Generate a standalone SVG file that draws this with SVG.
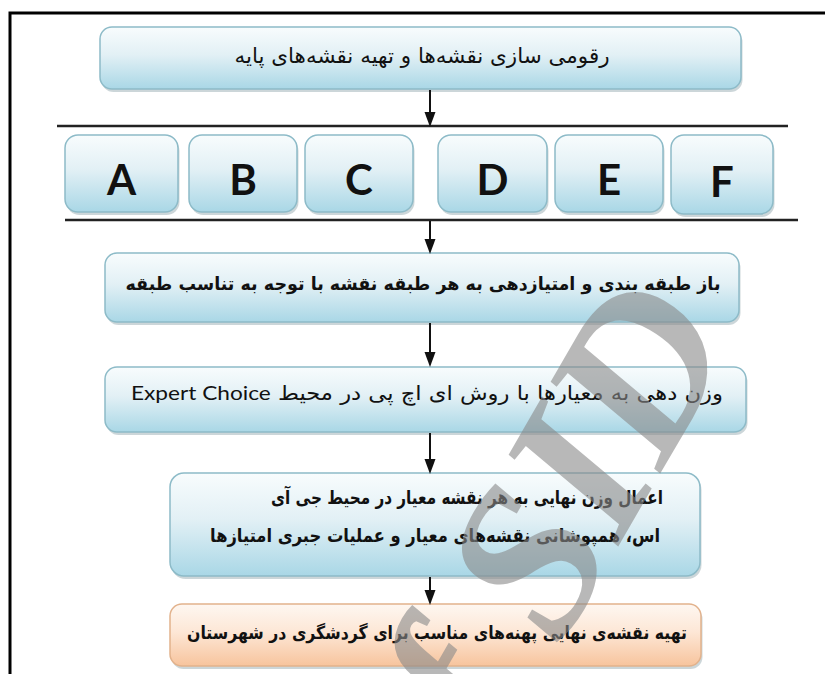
<svg xmlns="http://www.w3.org/2000/svg" width="825" height="674" viewBox="0 0 825 674">
<defs>
<linearGradient id="gBlue" x1="0" y1="0" x2="0" y2="1">
<stop offset="0" stop-color="#f8fcfd"/>
<stop offset="0.45" stop-color="#e2f0f5"/>
<stop offset="1" stop-color="#a9d7e6"/>
</linearGradient>
<linearGradient id="gOrange" x1="0" y1="0" x2="0" y2="1">
<stop offset="0" stop-color="#fef7f1"/>
<stop offset="0.45" stop-color="#fde7d6"/>
<stop offset="1" stop-color="#f7c49d"/>
</linearGradient>
<marker id="ah" markerUnits="userSpaceOnUse" viewBox="0 0 16 12" markerWidth="16" markerHeight="12" refX="0" refY="6" orient="auto">
<path d="M0,0.5 L15,6 L0,11.5 Z" fill="#111"/>
</marker>
</defs>
<style>
.box{fill:url(#gBlue);stroke:#8dbbc8;stroke-width:1.5}
.obox{fill:url(#gOrange);stroke:#e2b28c;stroke-width:1.5}
.sh{fill:#8fa4ab;opacity:.45}
.fa{font-family:"DejaVu Sans",sans-serif;fill:#111;text-anchor:middle}
.en{font-family:Lato,"Open Sans",sans-serif;font-weight:400}
.lt{font-family:Lato,"Open Sans",sans-serif;font-weight:700;font-size:42px;fill:#111;text-anchor:middle}
.conn line{stroke:#111;stroke-width:2;marker-end:url(#ah)}
.rule{stroke:#222;stroke-width:2.5}
.wm{font-family:"Liberation Serif",serif;font-style:italic;font-weight:700;font-size:215px;fill:#8a8a8a;opacity:.6}
</style>
<rect width="825" height="674" fill="#fff"/>
<path d="M10,674 V13 H825" fill="none" stroke="#000" stroke-width="3"/>
<line class="rule" x1="57" y1="126" x2="788" y2="126"/>
<line class="rule" x1="65" y1="220" x2="798" y2="220"/>

<g id="n1">
<rect class="sh" x="101.5" y="30" width="641" height="62" rx="12"/>
<rect class="box" x="100" y="27" width="641" height="62" rx="12"/>
<text class="fa" x="422" y="63" font-size="21" direction="rtl" textLength="375" lengthAdjust="spacingAndGlyphs">رقومی سازی نقشه&#8204;ها و تهیه نقشه&#8204;های پایه</text>
</g>
<g id="nA">
<rect class="sh" x="66.5" y="138" width="113" height="77" rx="13"/>
<rect class="box" x="65" y="135" width="113" height="77" rx="13"/>
<text class="lt" x="121.5" y="195">A</text>
</g>
<g id="nB">
<rect class="sh" x="190.5" y="138" width="108" height="77" rx="13"/>
<rect class="box" x="189" y="135" width="108" height="77" rx="13"/>
<text class="lt" x="243" y="195">B</text>
</g>
<g id="nC">
<rect class="sh" x="306.5" y="138" width="108" height="77" rx="13"/>
<rect class="box" x="305" y="135" width="108" height="77" rx="13"/>
<text class="lt" x="359" y="195">C</text>
</g>
<g id="nD">
<rect class="sh" x="439.5" y="138" width="109" height="77" rx="13"/>
<rect class="box" x="438" y="135" width="109" height="77" rx="13"/>
<text class="lt" x="492.5" y="195">D</text>
</g>
<g id="nE">
<rect class="sh" x="556.5" y="138" width="108" height="77" rx="13"/>
<rect class="box" x="555" y="135" width="108" height="77" rx="13"/>
<text class="lt" x="609" y="195">E</text>
</g>
<g id="nF">
<rect class="sh" x="672.5" y="138" width="102" height="79" rx="13"/>
<rect class="box" x="671" y="135" width="102" height="79" rx="13"/>
<text class="lt" x="722" y="197">F</text>
</g>
<g id="n2">
<rect class="sh" x="106.5" y="256" width="634" height="69" rx="12"/>
<rect class="box" x="105" y="253" width="634" height="69" rx="12"/>
<text class="fa" x="423" y="290" font-size="18" font-weight="bold" direction="rtl" textLength="595" lengthAdjust="spacingAndGlyphs">باز طبقه بندی و امتیازدهی به هر طبقه نقشه با توجه به تناسب طبقه</text>
</g>
<g id="n3">
<rect class="sh" x="106.5" y="370" width="641" height="65" rx="12"/>
<rect class="box" x="105" y="367" width="641" height="65" rx="12"/>
<text class="fa" x="427" y="400" font-size="20" direction="rtl" textLength="592" lengthAdjust="spacingAndGlyphs">وزن دهی به معیارها با روش ای اچ پی در محیط <tspan class="en">Expert Choice</tspan></text>
</g>
<g id="n4">
<rect class="sh" x="171.5" y="476" width="530" height="103" rx="14"/>
<rect class="box" x="170" y="473" width="530" height="103" rx="14"/>
<text class="fa" x="467" y="504" font-size="19" font-weight="bold" direction="rtl" textLength="392" lengthAdjust="spacingAndGlyphs">اعمال وزن نهایی به هر نقشه معیار در محیط جی آی</text>
<text class="fa" x="435" y="542" font-size="19" font-weight="bold" direction="rtl" textLength="450" lengthAdjust="spacingAndGlyphs">اس، همپوشانی نقشه&#8204;های معیار و  عملیات جبری امتیازها</text>
</g>
<g id="n5">
<rect class="sh" x="171.5" y="607" width="531" height="62" rx="12"/>
<rect class="obox" x="170" y="604" width="531" height="62" rx="12"/>
<text class="fa" x="437" y="639" font-size="18" font-weight="bold" direction="rtl" textLength="500" lengthAdjust="spacingAndGlyphs">تهیه نقشه&#8204;ی نهایی پهنه&#8204;های مناسب برای گردشگری در شهرستان</text>
</g>

<g id="connectors" class="conn">
<line x1="430" y1="90" x2="430" y2="112"/>
<line x1="430" y1="221" x2="430" y2="239"/>
<line x1="430" y1="323" x2="430" y2="352"/>
<line x1="430" y1="433" x2="430" y2="459"/>
<line x1="430" y1="577" x2="430" y2="590"/>
</g>

<text class="wm" transform="translate(443,850) rotate(-60)">of SID</text>
</svg>
